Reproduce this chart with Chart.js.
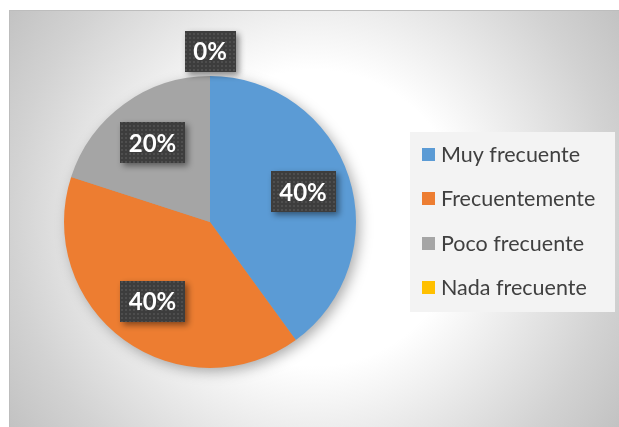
<!DOCTYPE html>
<html><head><meta charset="utf-8">
<script src="https://cdn.jsdelivr.net/npm/chart.js@4"></script>
<style>html,body{margin:0;padding:0;background:#fff;overflow:hidden}</style>
</head><body>
<canvas id="c" width="619" height="427"></canvas>
<script>
const categories = ['Muy frecuente', 'Frecuentemente', 'Poco frecuente', 'Nada frecuente'];
const values = [40, 40, 20, 0];
const percentLabels = ['40%', '40%', '20%', '0%'];
const colors = ['#5b9bd5', '#ed7d31', '#a5a5a5', '#ffc000'];

function makePattern(ctx) {
  const t = document.createElement('canvas');
  t.width = 4; t.height = 4;
  const g = t.getContext('2d');
  g.fillStyle = '#3d3d3d'; g.fillRect(0, 0, 4, 4);
  g.fillStyle = '#4e4e4e'; g.fillRect(1, 1, 2, 2);
  return ctx.createPattern(t, 'repeat');
}

const bgPlugin = {
  id: 'bg',
  beforeDraw(chart) {
    const ctx = chart.ctx;
    ctx.save();
    const cx = 314, cy = 218;
    const grad = ctx.createRadialGradient(cx, cy, 0, cx, cy, 370);
    grad.addColorStop(0, '#ffffff');
    grad.addColorStop(0.4, '#ffffff');
    grad.addColorStop(0.56, '#eeeeee');
    grad.addColorStop(0.82, '#d2d2d2');
    grad.addColorStop(1, '#c2c2c2');
    ctx.fillStyle = grad;
    ctx.fillRect(9, 10, 610, 417);
    ctx.fillStyle = '#bdbdbd';
    ctx.fillRect(9, 10, 610, 1);
    ctx.fillRect(9, 10, 1, 417);
    ctx.restore();
  },
  beforeDatasetsDraw(chart) {
    const arc = chart.getDatasetMeta(0).data[0];
    if (!arc) return;
    const p = arc.getProps(['x', 'y', 'outerRadius'], true);
    const ctx = chart.ctx;
    ctx.save();
    ctx.shadowColor = 'rgba(0,0,0,0.35)';
    ctx.shadowBlur = 14;
    ctx.shadowOffsetX = 4;
    ctx.shadowOffsetY = 4;
    ctx.fillStyle = '#a0a0a0';
    ctx.beginPath();
    ctx.arc(p.x, p.y, p.outerRadius - 1, 0, Math.PI * 2);
    ctx.fill();
    ctx.restore();
  },
  afterDraw(chart) {
    const ctx = chart.ctx;
    const meta = chart.getDatasetMeta(0);
    const pat = makePattern(ctx);
    ctx.save();
    meta.data.forEach((el, i) => {
      const p = el.getProps(['x', 'y', 'startAngle', 'endAngle', 'outerRadius'], true);
      const mid = (p.startAngle + p.endAngle) / 2;
      const r = values[i] === 0 ? p.outerRadius + 25 : p.outerRadius * 0.67;
      const x = p.x + Math.cos(mid) * r;
      const y = p.y + Math.sin(mid) * r;
      const txt = percentLabels[i];
      ctx.font = 'bold 24px Lato';
      const w = ctx.measureText(txt).width + 17;
      const h = 41;
      ctx.save();
      ctx.shadowColor = 'rgba(0,0,0,0.45)';
      ctx.shadowBlur = 6;
      ctx.shadowOffsetX = 3;
      ctx.shadowOffsetY = 3;
      ctx.fillStyle = pat;
      ctx.fillRect(Math.round(x - w / 2), Math.round(y - h / 2), Math.round(w), h);
      ctx.restore();
      ctx.fillStyle = '#ffffff';
      ctx.textAlign = 'center';
      ctx.textBaseline = 'middle';
      ctx.fillText(txt, x, y + 1);
    });
    // legend
    ctx.fillStyle = '#f3f3f3';
    ctx.fillRect(410, 132, 205, 180);
    ctx.font = '21.5px Lato';
    ctx.textAlign = 'left';
    ctx.textBaseline = 'middle';
    categories.forEach((c, i) => {
      const y = 155 + i * 44.3;
      ctx.fillStyle = colors[i];
      ctx.fillRect(422, Math.round(y - 7), 13, 13);
      ctx.fillStyle = '#404040';
      ctx.fillText(c, 441, y);
    });
    ctx.restore();
  }
};

new Chart(document.getElementById('c'), {
  type: 'pie',
  data: {
    labels: categories,
    datasets: [{ data: values, backgroundColor: colors, borderWidth: 0 }]
  },
  options: {
    responsive: false,
    animation: false,
    devicePixelRatio: 1,
    layout: { padding: { left: 64, right: 263, top: 76, bottom: 59 } },
    plugins: { legend: { display: false }, tooltip: { enabled: false } }
  },
  plugins: [bgPlugin]
});
</script>
</body></html>
